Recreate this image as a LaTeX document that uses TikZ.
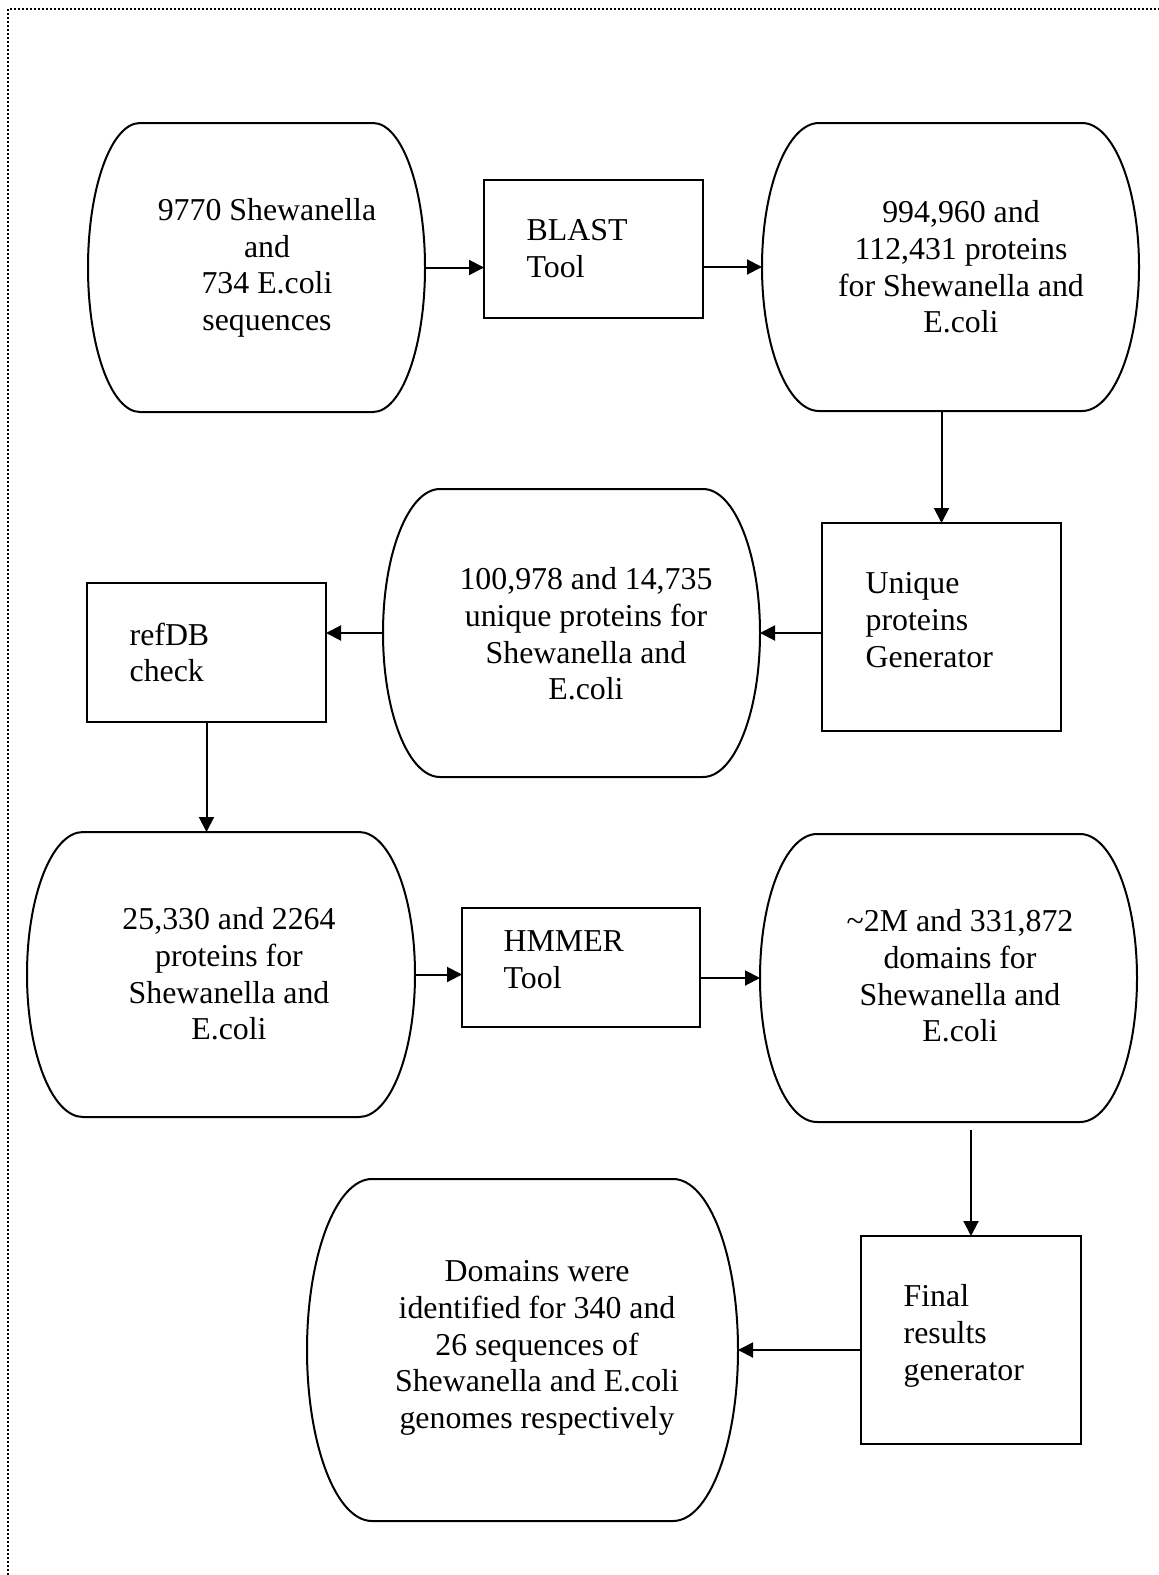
\documentclass[tikz,border=0pt]{standalone}
\usepackage{fontspec}
\setmainfont{Liberation Serif}
\usetikzlibrary{arrows.meta}

% Coordinates are given in pixel-like units, y growing downwards.
\newcommand\capsule[6]{% name, left, top, right, bottom, side radius
  \node[capbox, minimum width={(#4-#2)*0.3pt}, minimum height={(#5-#3)*0.3pt}]
    (#1) at ({(#2+#4)/2},{(#3+#5)/2}) {};
  \draw[outline] (#2+#6,#3) -- (#4-#6,#3)
    .. controls ({#4-#6+0.5523*#6},#3) and (#4,{(#3+#5)/2-0.5523*(#5-#3)/2}) .. (#4,{(#3+#5)/2})
    .. controls (#4,{(#3+#5)/2+0.5523*(#5-#3)/2}) and ({#4-#6+0.5523*#6},#5) .. (#4-#6,#5)
    -- (#2+#6,#5)
    .. controls ({#2+#6-0.5523*#6},#5) and (#2,{(#3+#5)/2+0.5523*(#5-#3)/2}) .. (#2,{(#3+#5)/2})
    .. controls (#2,{(#3+#5)/2-0.5523*(#5-#3)/2}) and ({#2+#6-0.5523*#6},#3) .. (#2+#6,#3)
    -- cycle;
}
\newcommand\procbox[5]{% name, left, top, right, bottom
  \node[pbox, minimum width={(#4-#2)*0.3pt}, minimum height={(#5-#3)*0.3pt}]
    (#1) at ({(#2+#4)/2},{(#3+#5)/2}) {};
}

\begin{document}
\begin{tikzpicture}[
  x=0.3pt, y=-0.3pt,
  capbox/.style={rectangle, draw=none, inner sep=0pt, outer sep=0pt},
  outline/.style={line width=0.6pt, black},
  pbox/.style={rectangle, draw=black, line width=0.65pt, inner sep=0pt, outer sep=0pt},
  ctext/.style={align=center, inner sep=0pt, font=\fontsize{9.55pt}{11pt}\selectfont},
  ltext/.style={align=left, anchor=north west, inner sep=0pt, font=\fontsize{9.55pt}{11pt}\selectfont},
  arr/.style={line width=0.6pt, -{Triangle[length=4.5pt,width=4.5pt]}},
  border/.style={line width=0.6pt, dash pattern=on 0.6pt off 0.6pt}
]
\useasboundingbox (0,0) rectangle (1158,1575);

% page frame (only top and left edges are visible)
\draw[border] (8,1575) -- (8,9) -- (1158,9);

% data stages
\capsule{seqs}{88}{123}{425}{412}{52}
\capsule{prots}{762}{123}{1139}{411}{57}
\capsule{uniqp}{383}{489}{760}{777}{57}
\capsule{refp}{27}{832}{415}{1117}{56}
\capsule{doms}{760}{834}{1137}{1122}{57}
\capsule{final}{307}{1179}{738}{1521}{65}

\node[ctext] (seqsT) at (267,268) {9770 Shewanella\\and\\734 E.coli\\sequences};
\node[ctext] (protsT) at (961,267) {994,960 and\\112,431 proteins\\for Shewanella and\\E.coli};
\node[ctext] (uniqpT) at (586,634) {100,978 and 14,735\\unique proteins for\\Shewanella and\\E.coli};
\node[ctext] (refpT) at (229,974) {25,330 and 2264\\proteins for\\Shewanella and\\E.coli};
\node[ctext] (domsT) at (960,976) {\textasciitilde2M and 331,872\\domains for\\Shewanella and\\E.coli};
\node[ctext] (finalT) at (537,1348) {Domains were\\identified for 340 and\\26 sequences of\\Shewanella and E.coli\\genomes respectively};

% processing tools
\procbox{blast}{484}{180}{703}{318}
\procbox{ugen}{822}{523}{1061}{731}
\procbox{refdb}{87}{583}{326}{722}
\procbox{hmmer}{462}{908}{700}{1027}
\procbox{fgen}{861}{1236}{1081}{1444}

\node[ltext] (blastT) at (526,219) {BLAST\\Tool};
\node[ltext] (ugenT) at (865,572) {Unique\\proteins\\Generator};
\node[ltext] (refdbT) at (129,622) {refDB\\check};
\node[ltext] (hmmerT) at (503,930) {HMMER\\Tool};
\node[ltext] (fgenT) at (903,1284) {Final\\results\\generator};

% flow
\draw[arr] (seqs.east) -- (seqs.east -| blast.west);
\draw[arr] (blast.east |- prots.west) -- (prots.west);
\draw[arr] (ugen.north |- prots.south) -- (ugen.north);
\draw[arr] (ugen.west |- uniqp.east) -- (uniqp.east);
\draw[arr] (uniqp.west) -- (uniqp.west -| refdb.east);
\draw[arr] (refdb.south) -- (refdb.south |- refp.north);
\draw[arr] (refp.east) -- (refp.east -| hmmer.west);
\draw[arr] (hmmer.east |- doms.west) -- (doms.west);
\draw[arr, shorten <=2.4pt] (fgen.north |- doms.south) -- (fgen.north);
\draw[arr] (fgen.west |- final.east) -- (final.east);
\end{tikzpicture}
\end{document}
